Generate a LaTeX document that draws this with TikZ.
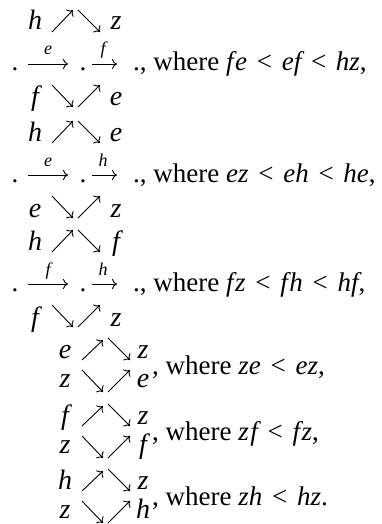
\documentclass[tikz,border=0pt]{standalone}
\usepackage{fontspec}
\setmainfont{Liberation Serif}
\usetikzlibrary{arrows.meta}

\tikzset{
  ltr/.style={font=\fontsize{28}{32}\selectfont\itshape, inner sep=0pt, anchor=base},
  tag/.style={font=\fontsize{18}{20}\selectfont\itshape, inner sep=0pt, anchor=base},
  txt/.style={font=\fontsize{27}{31}\selectfont, inner sep=0pt, anchor=base west},
  arr/.style={-{To[length=5pt,width=10pt]}, line width=0.9pt},
}
\newcommand{\lessgap}{\hspace{0.36em}{\upshape<}\hspace{0.36em}}

\begin{document}
\begin{tikzpicture}[x=1pt,y=-1pt]
  \useasboundingbox (0,0) rectangle (382,524);
  % two paths of length two, read along the middle row
  \foreach \c/\tl/\tr/\la/\lb/\rel/\bl/\br [count=\k] in {
      20/h/z/e/f/{f\kern1.5pt e\lessgap ef\lessgap hz}/f/e,
      131/h/e/e/h/{ez\lessgap eh\lessgap he}/e/z,
      240/h/f/f/h/{f\kern1.5pt z\lessgap f\kern1.5pt h\lessgap hf}/f/z}{
    \node[ltr] (tl\k) at (35,\c+10) {\tl};
    \node[ltr] (tr\k) at (116,\c+10) {\tr};
    \draw[arr] (52,\c+12) -- (73,\c-10);
    \draw[arr] (78,\c-10) -- (100,\c+12);
    \node[ltr,font=\fontsize{27}{31}\selectfont] (da\k) at (15,\c+51) {.};
    \node[ltr,font=\fontsize{27}{31}\selectfont] (db\k) at (83,\c+51) {.};
    \draw[arr] (28,\c+44) -- (68,\c+44);
    \draw[arr] (92,\c+44) -- (117,\c+44);
    \node[tag] (ea\k) at (48,\c+35) {\la};
    \node[tag] (eb\k) at (103,\c+35) {\lb};
    \node[txt] (w\k) at (133,\c+51) {., where \textit{\rel},};
    \node[ltr] (bl\k) at (35,\c+86) {\bl};
    \node[ltr] (br\k) at (116,\c+86) {\br};
    \draw[arr] (52,\c+65) -- (73,\c+87);
    \draw[arr] (78,\c+87) -- (100,\c+65);
  }
  % commuting squares with z
  \foreach \c/\a/\rel/\p [count=\k] in {
      350/e/{ze\lessgap ez}/{,},
      416/f/{z\kern1.5pt f\lessgap f\kern1.5pt z}/{,},
      481/h/{zh\lessgap hz}/{.}}{
    \node[ltr] (ul\k) at (65,\c+8) {\a};
    \node[ltr] (ur\k) at (143,\c+8) {z};
    \draw[arr] (82,\c+10) -- (103,\c-10);
    \draw[arr] (108,\c-12) -- (130,\c+10);
    \node[ltr] (ll\k) at (65,\c+37) {z};
    \node[ltr] (lr\k) at (143,\c+37) {\a};
    \draw[arr] (82,\c+20) -- (103,\c+42);
    \draw[arr] (108,\c+42) -- (130,\c+20);
    \node[txt] (v\k) at (152,\c+24) {, where \textit{\rel}\p};
  }
\end{tikzpicture}
\end{document}
